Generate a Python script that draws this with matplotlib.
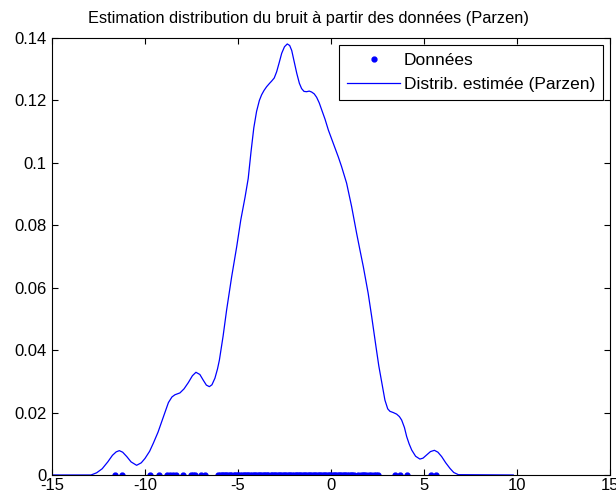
import numpy as np
import matplotlib
matplotlib.use('Agg')
import matplotlib.pyplot as plt

plt.rcParams['font.family'] = ['Liberation Sans', 'DejaVu Sans']
plt.rcParams['axes.unicode_minus'] = False

# noise samples (drawn on the x axis)
donnees = [-11.61, -11.25, -9.73, -9.25, -8.82, -8.66, -8.50, -8.33, -7.94,
           -7.54, -7.42, -7.31, -6.97, -6.77,
           -6.06, -5.95, -5.88, -5.79, -5.70, -5.62, -5.51, -5.43, -5.35, -5.24,
           -5.15, -5.06, -4.98, -4.87, -4.79, -4.70, -4.61, -4.52, -4.44, -4.33,
           -4.25, -4.16, -4.07, -3.99, -3.88, -3.80, -3.71, -3.62, -3.53, -3.45,
           -3.36, -3.25, -3.17, -3.08, -2.99, -2.91, -2.80, -2.72, -2.63, -2.54,
           -2.46, -2.35, -2.27, -2.18, -2.09, -2.01, -1.90, -1.81, -1.73, -1.64,
           -1.55, -1.46, -1.37, -1.28, -1.20, -1.11, -1.02, -0.93, -0.84, -0.75,
           -0.66, -0.57, -0.48, -0.39, -0.30, -0.21, -0.12, -0.03, 0.06, 0.15,
           0.24, 0.33, 0.42, 0.51, 0.60, 0.69, 0.78, 0.87, 0.96, 1.05, 1.14,
           1.23, 1.45, 1.62, 1.71, 1.80, 1.89, 2.05, 2.17, 2.30, 2.42, 2.54,
           3.44, 3.71, 4.07, 5.36, 5.65]

# Parzen estimate of the density
x_parzen = [-15.0, -12.9, -12.6, -12.3, -12.0, -11.75, -11.55, -11.38, -11.2,
            -10.98, -10.75, -10.45, -10.2, -10.0, -9.75, -9.55, -9.3, -9.1,
            -8.9, -8.74, -8.55, -8.39, -8.12, -7.9, -7.67, -7.45, -7.26, -7.05,
            -6.86, -6.7, -6.54, -6.4, -6.24, -6.1, -6.0, -5.8, -5.61, -5.34,
            -5.07, -4.85, -4.62, -4.45, -4.3, -4.15, -4.0, -3.85, -3.73, -3.6,
            -3.46, -3.3, -3.19, -3.05, -2.92, -2.78, -2.65, -2.5, -2.35, -2.22,
            -2.11, -1.97, -1.84, -1.7, -1.58, -1.45, -1.31, -1.17, -1.04, -0.9,
            -0.77, -0.63, -0.5, -0.32, -0.14, 0.04, 0.22, 0.4, 0.57, 0.84,
            1.11, 1.38, 1.56, 1.74, 2.0, 2.19, 2.42, 2.57, 2.72, 2.9, 3.05,
            3.17, 3.35, 3.53, 3.68, 3.8, 3.95, 4.07, 4.2, 4.34, 4.55, 4.78,
            4.95, 5.14, 5.35, 5.56, 5.75, 5.95, 6.17, 6.4, 6.6, 6.85, 9.8]
y_parzen = [0.0, 0.0, 0.0007, 0.0020, 0.0042, 0.0063, 0.0074, 0.0078, 0.0073,
            0.0059, 0.0042, 0.0031, 0.0039, 0.0053, 0.0076, 0.0102, 0.0137,
            0.0171, 0.0205, 0.0232, 0.0250, 0.0257, 0.0263, 0.0276, 0.0296,
            0.0318, 0.0329, 0.0322, 0.0303, 0.0288, 0.0283, 0.0289, 0.0310,
            0.0340, 0.0368, 0.0445, 0.0529, 0.0635, 0.0731, 0.0817, 0.0890,
            0.0950, 0.1035, 0.1112, 0.1165, 0.1200, 0.1218, 0.1232, 0.1244,
            0.1255, 0.1262, 0.1272, 0.1292, 0.1322, 0.1351, 0.1372, 0.1381,
            0.1376, 0.1360, 0.1322, 0.1287, 0.1255, 0.1238, 0.1229, 0.1228,
            0.1230, 0.1227, 0.1221, 0.1210, 0.1192, 0.1170, 0.1140, 0.1105,
            0.1076, 0.1047, 0.1018, 0.0988, 0.0935, 0.0860, 0.0774, 0.0720,
            0.0667, 0.0582, 0.0507, 0.0411, 0.0350, 0.0300, 0.0240, 0.0212,
            0.0204, 0.0200, 0.0195, 0.0187, 0.0176, 0.0152, 0.0123, 0.0100,
            0.0080, 0.0060, 0.0051, 0.0054, 0.0064, 0.0075, 0.0079, 0.0073,
            0.0059, 0.0039, 0.0021, 0.0008, 0.0001, 0.0]

xticks = [-15, -10, -5, 0, 5, 10, 15]
yticks = [0, 0.02, 0.04, 0.06, 0.08, 0.1, 0.12, 0.14]
ytick_labels = ['0', '0.02', '0.04', '0.06', '0.08', '0.1', '0.12', '0.14']

fig = plt.figure(figsize=(6.16, 4.97), dpi=100)
ax = fig.add_axes([0.0844, 0.0443, 0.9058, 0.8792])

ax.plot(donnees, np.zeros(len(donnees)), '.', color='#0000ff', ms=7,
        label='Données')
ax.plot(x_parzen, y_parzen, '-', color='#0000ff', lw=0.9,
        label='Distrib. estimée (Parzen)')

ax.set_xlim(-15, 15)
ax.set_ylim(0, 0.14)
ax.set_xticks(xticks)
ax.set_xticklabels([str(t) for t in xticks])
ax.set_yticks(yticks)
ax.set_yticklabels(ytick_labels)
ax.tick_params(direction='in', top=True, right=True, length=4, width=0.8,
               labelsize=12, pad=4)
ax.tick_params(axis='x', pad=2)
for s in ax.spines.values():
    s.set_linewidth(0.8)

fig.text(0.5, 0.962,
         'Estimation distribution du bruit à partir des données (Parzen)',
         fontsize=11.8, ha='center', va='center')

leg = ax.legend(loc='upper right', fontsize=12.5, fancybox=False,
                edgecolor='k', framealpha=1, borderaxespad=0.4,
                handlelength=3.1, handletextpad=0.2, labelspacing=0.5,
                borderpad=0.45)
leg.get_frame().set_linewidth(0.8)

fig.savefig('out.png', dpi=100)
